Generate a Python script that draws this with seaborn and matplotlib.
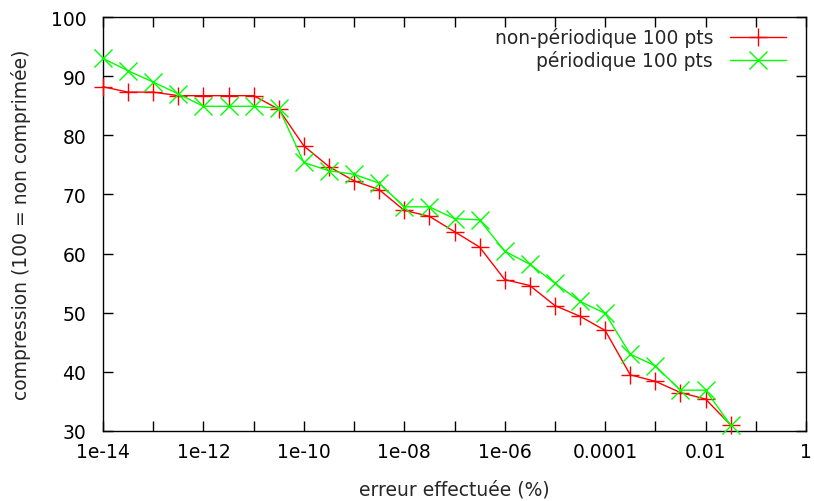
import matplotlib
matplotlib.use("Agg")
import matplotlib.pyplot as plt
import matplotlib.ticker as mticker
import seaborn as sns
import pandas as pd

# error (%) values, half-decade spacing
erreur = [1e-14, 3.16e-14, 1e-13, 3.16e-13, 1e-12, 3.16e-12, 1e-11, 3.16e-11,
          1e-10, 3.16e-10, 1e-9, 3.16e-9, 1e-8, 3.16e-8, 1e-7, 3.16e-7,
          1e-6, 3.16e-6, 1e-5, 3.16e-5, 1e-4, 3.16e-4, 1e-3, 3.16e-3,
          1e-2, 3.16e-2]
non_periodique = [88.2, 87.3, 87.3, 86.7, 86.7, 86.7, 86.7, 84.4,
                  78.2, 74.7, 72.3, 70.8, 67.3, 66.3, 63.7, 61.1,
                  55.6, 54.6, 51.2, 49.4, 47.0, 39.5, 38.4, 36.5,
                  35.4, 31.0]
periodique = [93.0, 90.9, 89.0, 87.0, 84.9, 84.9, 84.9, 84.6,
              75.4, 74.0, 73.4, 71.9, 67.9, 67.9, 65.9, 65.7,
              60.4, 58.2, 55.0, 51.9, 49.9, 43.0, 41.0, 36.9,
              36.9, 31.0]
series_names = ["non-périodique 100 pts", "périodique 100 pts"]
colors = ["#ff0000", "#00ff00"]
x_tick_values = [1e-14, 1e-13, 1e-12, 1e-11, 1e-10, 1e-9, 1e-8, 1e-7,
                 1e-6, 1e-5, 1e-4, 1e-3, 1e-2, 1e-1, 1]
x_tick_labels = ["1e-14", "", "1e-12", "", "1e-10", "", "1e-08", "",
                 "1e-06", "", "0.0001", "", "0.01", "", "1"]
y_ticks = [30, 40, 50, 60, 70, 80, 90, 100]

df = pd.DataFrame({
    "erreur": erreur * 2,
    "compression": non_periodique + periodique,
    "serie": [series_names[0]] * len(erreur) + [series_names[1]] * len(erreur),
})

FS = 13.5
sns.set_style("ticks")
plt.rcParams["font.family"] = ["DejaVu Sans"]
plt.rcParams["font.size"] = FS

fig = plt.figure(figsize=(8.14, 5.02), dpi=100)
ax = fig.add_axes([103 / 814, 1 - 432 / 502, (806 - 103) / 814, (432 - 18) / 502])

sns.lineplot(data=df, x="erreur", y="compression", hue="serie", style="serie",
             palette=dict(zip(series_names, colors)),
             markers={series_names[0]: "+", series_names[1]: "x"},
             dashes=False, markersize=13, markeredgewidth=1.0, linewidth=1.0,
             ax=ax, legend=True)
for line in ax.lines:
    line.set_markeredgecolor(line.get_color())
    line.set_markerfacecolor(line.get_color())
    line.set_clip_on(False)

ax.set_xscale("log")
ax.set_xlim(1e-14, 1)
ax.set_ylim(30, 100)
ax.xaxis.set_major_locator(mticker.FixedLocator(x_tick_values))
ax.xaxis.set_major_formatter(mticker.FixedFormatter(x_tick_labels))
ax.xaxis.set_minor_locator(mticker.NullLocator())
ax.set_yticks(y_ticks)
ax.tick_params(axis="both", direction="in", top=True, right=True, length=7,
               width=1, labelsize=FS, colors="black")
ax.tick_params(axis="y", pad=12)
ax.tick_params(axis="x", pad=8)
for s in ax.spines.values():
    s.set_visible(True)
    s.set_color("black")
    s.set_linewidth(1)
    s.set_zorder(0.5)

ax.set_xlabel("erreur effectuée (%)", fontsize=FS, labelpad=13)
ax.set_ylabel("compression (100 = non comprimée)", fontsize=FS, labelpad=14)

leg = ax.legend(loc="upper right", bbox_to_anchor=((793 - 103) / 703 + 0.005, 1.0),
                frameon=False, markerfirst=False,
                handlelength=3.0, fontsize=FS, borderaxespad=0.15,
                labelspacing=0.15, handletextpad=0.9)
for t in leg.get_texts():
    t.set_ha("right")
leg._legend_box.align = "right"
for h in leg.legend_handles:
    h.set_markeredgecolor(h.get_color())
    h.set_markersize(13)

fig.savefig("out.png", dpi=100)
